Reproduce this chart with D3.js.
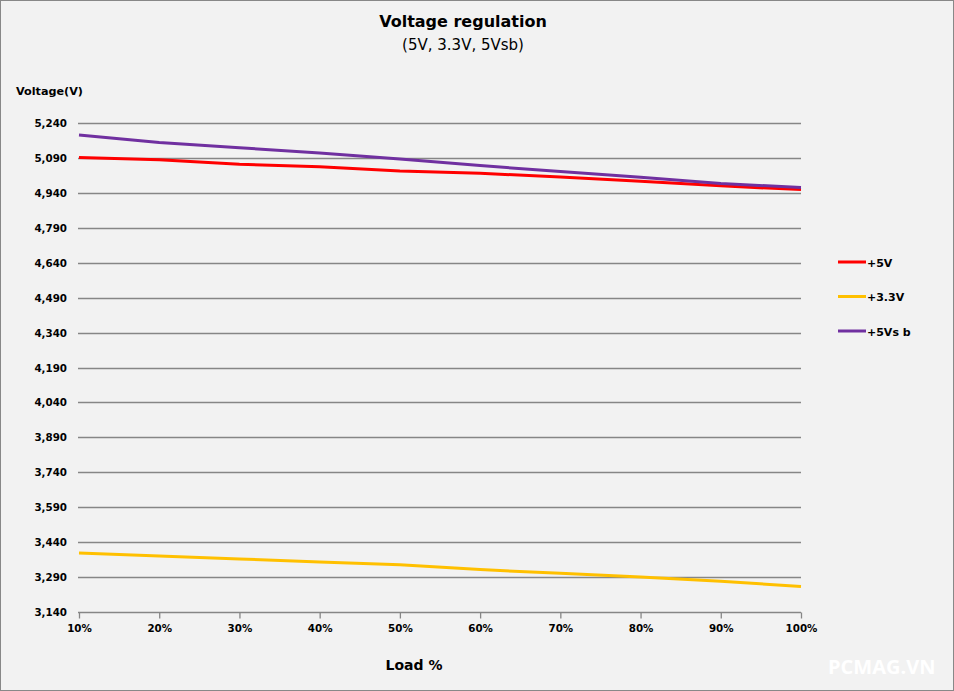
<!DOCTYPE html>
<html><head><meta charset="utf-8">
<script src="https://cdn.jsdelivr.net/npm/d3@7"></script>
<style>
html,body{margin:0;padding:0;background:#f2f2f2;}
svg{display:block;}
</style></head>
<body>
<svg id="c" width="954" height="691"></svg>
<script>
const loads = ["10%","20%","30%","40%","50%","60%","70%","80%","90%","100%"];
const v5 = [5092,5082,5063,5052,5034,5024,5008,4990,4970,4954];
const v33 = [3393,3380,3368,3355,3343,3322,3306,3290,3272,3250];
const v5sb = [5188,5156,5134,5111,5085,5057,5032,5007,4980,4963];
const yTicks = [3140,3290,3440,3590,3740,3890,4040,4190,4340,4490,4640,4790,4940,5090,5240];
const seriesNames = ["+5V","+3.3V","+5Vs b"];
const seriesColors = ["#ff0000","#ffc000","#7030a0"];

const svg = d3.select("#c");
svg.append("rect").attr("x",0.5).attr("y",0.5).attr("width",953).attr("height",690)
  .attr("fill","#f2f2f2").attr("stroke","#888");

const x = d3.scalePoint().domain(loads).range([79,801]);
const y = d3.scaleLinear().domain([3140,5240]).range([612,123]);

const font = "Tahoma, 'DejaVu Sans', Verdana, sans-serif";

// gridlines
svg.append("g").selectAll("line").data(yTicks.slice(1)).join("line")
  .attr("x1",78).attr("x2",801).attr("y1",d=>Math.round(y(d))+0.5).attr("y2",d=>Math.round(y(d))+0.5)
  .attr("stroke","#868686").attr("stroke-width",1.3);

// y axis labels
const fmt = d3.format(",");
svg.append("g").selectAll("text").data(yTicks).join("text")
  .attr("x",67).attr("y",d=>y(d)+4).attr("text-anchor","end")
  .attr("font-family",font).attr("font-size",10.3).attr("font-weight","bold").attr("fill","#000")
  .text(d=>fmt(d));

// x axis
const xa = svg.append("g").attr("transform","translate(0,612.5)")
  .call(d3.axisBottom(x).tickSize(6).tickPadding(6));
xa.select(".domain").attr("stroke","#868686").attr("stroke-width",1.3).attr("d","M78,0H801");
xa.selectAll(".tick line").attr("stroke","#868686").attr("stroke-width",1.3);
xa.selectAll(".tick text").attr("font-family",font).attr("font-size",10.3).attr("font-weight","bold").attr("fill","#000");

// lines
const line = d3.line().x((d,i)=>x(loads[i])).y(d=>y(d));
const data = [v5, v33, v5sb];
svg.append("g").selectAll("path").data(data).join("path")
  .attr("d",line).attr("fill","none")
  .attr("stroke",(d,i)=>seriesColors[i]).attr("stroke-width",3).attr("stroke-linejoin","round");

// titles
svg.append("text").attr("x",463).attr("y",27).attr("text-anchor","middle")
  .attr("font-family",font).attr("font-size",16).attr("font-weight","bold").text("Voltage regulation");
svg.append("text").attr("x",463).attr("y",50).attr("text-anchor","middle")
  .attr("font-family",font).attr("font-size",15).text("(5V, 3.3V, 5Vsb)");
svg.append("text").attr("x",16).attr("y",95)
  .attr("font-family",font).attr("font-size",11.2).attr("font-weight","bold").text("Voltage(V)");
svg.append("text").attr("x",414).attr("y",670).attr("text-anchor","middle")
  .attr("font-family",font).attr("font-size",14).attr("font-weight","bold").text("Load %");

// legend
const lg = svg.append("g").selectAll("g").data(seriesNames).join("g")
  .attr("transform",(d,i)=>`translate(838,${262+i*34.5})`);
lg.append("line").attr("x1",0).attr("x2",28).attr("y1",0).attr("y2",0)
  .attr("stroke",(d,i)=>seriesColors[i]).attr("stroke-width",3);
lg.append("text").attr("x",29).attr("y",4.5)
  .attr("font-family",font).attr("font-size",11).attr("font-weight","bold").text(d=>d);

// watermark
svg.append("text").attr("x",828).attr("y",674)
  .attr("font-family","'Open Sans', 'DejaVu Sans', sans-serif").attr("font-size",20).attr("font-weight","bold")
  .attr("fill","#ffffff").text("PCMAG.VN");
</script>
</body></html>
